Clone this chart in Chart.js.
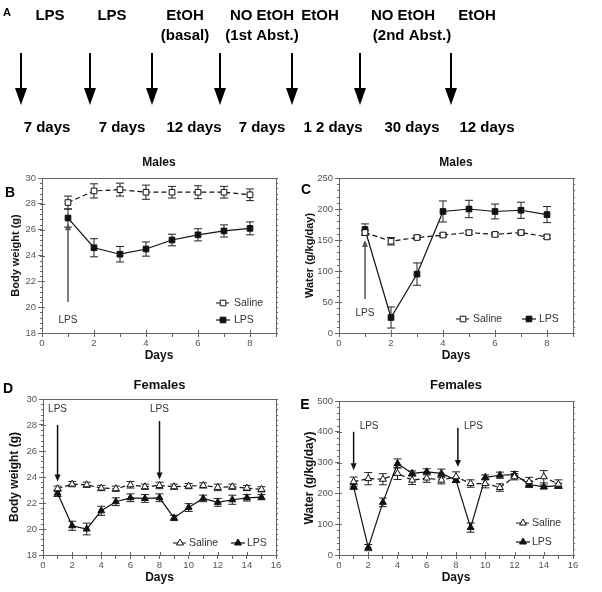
<!DOCTYPE html>
<html>
<head>
<meta charset="utf-8">
<script src="https://cdn.jsdelivr.net/npm/chart.js@4.4.1/dist/chart.umd.min.js"></script>
<style>
  body { margin: 0; background: #fff; }
  #wrap { position: relative; width: 602px; height: 592px; overflow: hidden; }
  canvas { position: absolute; }
</style>
</head>
<body>
<div id="wrap">
  <canvas id="timeline" width="602" height="140" style="left:0;top:0"></canvas>
  <canvas id="chartB" width="300" height="225" style="left:0;top:140px"></canvas>
  <canvas id="chartC" width="302" height="225" style="left:300px;top:140px"></canvas>
  <canvas id="chartD" width="300" height="227" style="left:0;top:365px"></canvas>
  <canvas id="chartE" width="302" height="227" style="left:300px;top:365px"></canvas>
</div>
<script>
// ---- timeline (panel A) ----
const stageLabels = [['LPS'], ['LPS'], ['EtOH', '(basal)'], ['NO EtOH', '(1st Abst.)'], ['EtOH'], ['NO EtOH', '(2nd Abst.)'], ['EtOH']];
const stageDurations = ['7 days', '7 days', '12 days', '7 days', '1 2 days', '30 days', '12 days'];

// ---- data ----
const maleDays = [1, 2, 3, 4, 5, 6, 7, 8];
const maleWeightSaline = [28.1, 29.0, 29.1, 28.9, 28.9, 28.9, 28.9, 28.7];
const maleWeightSalineErr = [0.5, 0.55, 0.5, 0.55, 0.45, 0.5, 0.45, 0.45];
const maleWeightLps = [26.9, 24.6, 24.1, 24.5, 25.2, 25.6, 25.9, 26.1];
const maleWeightLpsErr = [0.7, 0.7, 0.6, 0.55, 0.45, 0.47, 0.47, 0.5];

const maleWaterSaline = [162, 148, 154, 158, 162, 159, 162, 155];
const maleWaterSalineErr = [4, 6, 3, 3, 3, 3, 3, 3];
const maleWaterLps = [167, 25, 95, 196, 200, 196, 198, 191];
const maleWaterLpsErr = [9, 17, 18, 17, 14, 12, 13, 13];

const femaleDays = [1, 2, 3, 4, 5, 6, 7, 8, 9, 10, 11, 12, 13, 14, 15];
const femaleWeightSaline = [23.1, 23.45, 23.4, 23.15, 23.1, 23.4, 23.25, 23.35, 23.25, 23.3, 23.35, 23.2, 23.25, 23.15, 23.05];
const femaleWeightSalineErr = [0.2, 0.2, 0.2, 0.2, 0.2, 0.25, 0.2, 0.25, 0.2, 0.2, 0.2, 0.25, 0.2, 0.2, 0.2];
const femaleWeightLps = [22.75, 20.25, 20.0, 21.4, 22.1, 22.4, 22.35, 22.4, 20.85, 21.65, 22.35, 22.05, 22.25, 22.4, 22.45];
const femaleWeightLpsErr = [0.25, 0.35, 0.45, 0.35, 0.3, 0.3, 0.3, 0.3, 0.2, 0.3, 0.25, 0.3, 0.35, 0.25, 0.2];

const femaleWaterSaline = [238, 248, 246, 265, 243, 250, 243, 254, 232, 232, 219, 254, 238, 254, 230];
const femaleWaterSalineErr = [15, 20, 18, 20, 14, 14, 12, 16, 12, 14, 12, 10, 14, 20, 14];
const femaleWaterLps = [221, 24, 171, 297, 265, 270, 265, 243, 89, 252, 259, 261, 229, 221, 225];
const femaleWaterLpsErr = [8, 10, 14, 15, 8, 10, 14, 8, 15, 8, 10, 10, 10, 6, 8];

const FONT = "'Liberation Sans', Arial, Helvetica, sans-serif";

// draw panel A with plain canvas calls
function drawTimeline() {
    const ctx = document.getElementById('timeline').getContext('2d');
    const line1X = [50, 112, 185, 262, 320, 403, 477];
    const line2X = [null, null, 185, 262, null, 412, null];
    const arrowX = [21, 90, 152, 220, 292, 360, 451];
    const durX = [47, 122, 194, 262, 333, 412, 487];

    ctx.fillStyle = '#000';
    ctx.font = 'bold 11px ' + FONT;
    ctx.textAlign = 'left';
    ctx.textBaseline = 'middle';
    ctx.fillText('A', 3, 13);

    ctx.font = 'bold 15px ' + FONT;
    ctx.textAlign = 'center';
    stageLabels.forEach((lines, i) => {
        ctx.fillText(lines[0], line1X[i], 16);
        if (lines[1]) ctx.fillText(lines[1], line2X[i], 36);
    });
    stageDurations.forEach((t, i) => ctx.fillText(t, durX[i], 128));

    ctx.strokeStyle = '#000';
    ctx.lineWidth = 2;
    arrowX.forEach(x => {
        ctx.beginPath();
        ctx.moveTo(x, 53);
        ctx.lineTo(x, 92);
        ctx.stroke();
        ctx.beginPath();
        ctx.moveTo(x - 6, 88);
        ctx.lineTo(x + 6, 88);
        ctx.lineTo(x, 105);
        ctx.closePath();
        ctx.fill();
    });
}

// error bars, frame, minor ticks, arrows, legend, panel letter
const decorPlugin = {
    id: 'decor',
    beforeDatasetsDraw(chart) {
        const {ctx} = chart;
        const xs = chart.scales.x, ys = chart.scales.y;
        ctx.save();
        ctx.strokeStyle = '#222';
        ctx.lineWidth = 1;
        chart.data.datasets.forEach(ds => {
            if (!ds.errors) return;
            ds.data.forEach((p, i) => {
                const e = ds.errors[i];
                const px = xs.getPixelForValue(p.x);
                const yt = ys.getPixelForValue(p.y + e);
                const yb = ys.getPixelForValue(p.y - e);
                ctx.beginPath();
                ctx.moveTo(px, yt); ctx.lineTo(px, yb);
                ctx.moveTo(px - 4, yt); ctx.lineTo(px + 4, yt);
                ctx.moveTo(px - 4, yb); ctx.lineTo(px + 4, yb);
                ctx.stroke();
            });
        });
        ctx.restore();
    },
    afterDraw(chart, args, opts) {
        const {ctx, chartArea: a} = chart;
        const xs = chart.scales.x, ys = chart.scales.y;
        ctx.save();

        // box + minor ticks
        ctx.strokeStyle = '#666';
        ctx.lineWidth = 1;
        ctx.beginPath();
        ctx.moveTo(a.left, a.top + 0.5); ctx.lineTo(a.right + 0.5, a.top + 0.5);
        ctx.lineTo(a.right + 0.5, a.bottom);
        ctx.stroke();
        ctx.beginPath();
        for (let v = ys.min; v <= ys.max + 1e-6; v += opts.minorY) {
            const py = Math.round(ys.getPixelForValue(v)) + 0.5;
            ctx.moveTo(a.left - 2, py); ctx.lineTo(a.left, py);
            ctx.moveTo(a.right, py); ctx.lineTo(a.right + 2, py);
        }
        ys.ticks.forEach(t => {
            const py = Math.round(ys.getPixelForValue(t.value)) + 0.5;
            ctx.moveTo(a.left, py); ctx.lineTo(a.left + 3, py);
        });
        xs.ticks.forEach(t => {
            const px = Math.round(xs.getPixelForValue(t.value)) + 0.5;
            if (t.value % 2 === 0) { ctx.moveTo(px, a.bottom); ctx.lineTo(px, a.bottom - 3); }
        });
        ctx.stroke();

        // LPS arrows
        (opts.arrows || []).forEach(ar => {
            const px = xs.getPixelForValue(ar.x);
            const y0 = ys.getPixelForValue(ar.from);
            const y1 = ys.getPixelForValue(ar.to);
            const dir = y1 < y0 ? -1 : 1;
            ctx.strokeStyle = ar.color;
            ctx.fillStyle = ar.color;
            ctx.lineWidth = 1.5;
            ctx.beginPath();
            ctx.moveTo(px, y0); ctx.lineTo(px, y1 - dir * 5);
            ctx.stroke();
            ctx.beginPath();
            ctx.moveTo(px - 3, y1 - dir * 7);
            ctx.lineTo(px + 3, y1 - dir * 7);
            ctx.lineTo(px, y1);
            ctx.closePath();
            ctx.fill();
        });

        // text labels
        ctx.fillStyle = '#333';
        ctx.font = '10px ' + FONT;
        ctx.textBaseline = 'middle';
        (opts.labels || []).forEach(l => {
            ctx.textAlign = l.align;
            ctx.fillText(l.text, xs.getPixelForValue(l.x) + (l.dx || 0), ys.getPixelForValue(l.y));
        });

        // legend
        (opts.legend || []).forEach(item => {
            const ds = chart.data.datasets[item.ds];
            ctx.strokeStyle = '#111';
            ctx.lineWidth = 1.2;
            ctx.setLineDash(ds.borderDash || []);
            ctx.beginPath();
            ctx.moveTo(item.x - 7, item.y); ctx.lineTo(item.x + 7, item.y);
            ctx.stroke();
            ctx.setLineDash([]);
            ctx.fillStyle = ds.pointBackgroundColor;
            ctx.strokeStyle = '#111';
            ctx.lineWidth = 1;
            Chart.helpers.drawPoint(ctx, {pointStyle: ds.pointStyle, radius: ds.pointRadius, rotation: 0, borderWidth: 1}, item.x, item.y);
            ctx.fillStyle = '#333';
            ctx.font = '10.5px ' + FONT;
            ctx.textAlign = 'left';
            ctx.fillText(ds.label, item.tx, item.y);
        });

        // panel letter
        ctx.fillStyle = '#000';
        ctx.font = 'bold 14px ' + FONT;
        ctx.textAlign = 'center';
        ctx.fillText(opts.letter, opts.letterX, opts.letterY);
        ctx.restore();
    }
};

function series(label, days, values, errs, filled, style) {
    return {
        label: label,
        data: days.map((d, i) => ({x: d, y: values[i]})),
        errors: errs,
        borderColor: '#111',
        borderWidth: 1.2,
        borderDash: filled ? [] : [5, 3],
        pointStyle: style,
        pointRadius: 4,
        pointBorderWidth: 1,
        pointBorderColor: '#111',
        pointBackgroundColor: filled ? '#111' : '#fff',
        tension: 0,
        fill: false
    };
}

function makeChart(id, p) {
    return new Chart(document.getElementById(id), {
        type: 'line',
        data: {datasets: p.datasets},
        options: {
            responsive: false,
            animation: false,
            events: [],
            layout: {padding: {top: 0, left: 0, bottom: 0, right: p.padRight}},
            plugins: {
                legend: {display: false},
                tooltip: {enabled: false},
                title: {
                    display: true, text: p.title, fullSize: false, color: '#111',
                    font: {family: FONT, size: p.titleSize, weight: 'bold'},
                    padding: p.titlePad
                },
                decor: p.decor
            },
            scales: {
                x: {
                    type: 'linear', min: 0, max: p.xMax,
                    afterFit: s => { s.height = p.xHeight; },
                    ticks: {
                        stepSize: 1, autoSkip: false, maxRotation: 0, padding: 1,
                        color: '#555', font: {family: FONT, size: 9.5},
                        callback: v => (v % 2 === 0 && v <= p.xLabelMax) ? v : ''
                    },
                    grid: {drawOnChartArea: false, drawTicks: true, tickLength: 4, color: '#666'},
                    border: {display: true, color: '#666'},
                    title: {
                        display: true, text: 'Days', color: '#111',
                        font: {family: FONT, size: 12, weight: 'bold'},
                        padding: {top: 0, bottom: p.xTitlePad}
                    }
                },
                y: {
                    min: p.yMin, max: p.yMax,
                    afterFit: s => { s.width = p.yWidth; },
                    ticks: {stepSize: p.yStep, padding: 2, color: '#555', font: {family: FONT, size: 9.5}},
                    grid: {drawOnChartArea: false, drawTicks: true, tickLength: 4, color: '#666'},
                    border: {display: true, color: '#666'},
                    title: {
                        display: true, text: p.yTitle, color: '#111',
                        font: {family: FONT, size: p.yTitleSize, weight: 'bold'},
                        padding: {top: p.yTitlePad, bottom: 0}
                    }
                }
            }
        },
        plugins: [decorPlugin]
    });
}

drawTimeline();

makeChart('chartB', {
    datasets: [
        series('Saline', maleDays, maleWeightSaline, maleWeightSalineErr, false, 'rect'),
        series('LPS', maleDays, maleWeightLps, maleWeightLpsErr, true, 'rect')
    ],
    title: 'Males', titleSize: 12, titlePad: {top: 15.8, bottom: 7.8},
    padRight: 24, xMax: 9, xLabelMax: 8, xHeight: 32, xTitlePad: 1.8,
    yMin: 18, yMax: 30, yStep: 2, yWidth: 42,
    yTitle: 'Body weight (g)', yTitleSize: 11, yTitlePad: 9.4,
    decor: {
        minorY: 0.4, letter: 'B', letterX: 10, letterY: 53,
        arrows: [{x: 1, from: 20.4, to: 26.5, color: '#555'}],
        labels: [{x: 1, y: 19.0, text: 'LPS', align: 'center'}],
        legend: [{ds: 0, x: 223, y: 163, tx: 234}, {ds: 1, x: 223, y: 180, tx: 234}]
    }
});

makeChart('chartC', {
    datasets: [
        series('Saline', maleDays, maleWaterSaline, maleWaterSalineErr, false, 'rect'),
        series('LPS', maleDays, maleWaterLps, maleWaterLpsErr, true, 'rect')
    ],
    title: 'Males', titleSize: 12, titlePad: {top: 15.8, bottom: 7.8},
    padRight: 29, xMax: 9, xLabelMax: 8, xHeight: 32, xTitlePad: 1.8,
    yMin: 0, yMax: 250, yStep: 50, yWidth: 39,
    yTitle: 'Water (g/kg/day)', yTitleSize: 11, yTitlePad: 3.4,
    decor: {
        minorY: 10, letter: 'C', letterX: 6, letterY: 50,
        arrows: [{x: 1, from: 55, to: 150, color: '#555'}],
        labels: [{x: 1, y: 32, text: 'LPS', align: 'center'}],
        legend: [{ds: 0, x: 163, y: 179, tx: 173}, {ds: 1, x: 229, y: 179, tx: 239}]
    }
});

makeChart('chartD', {
    datasets: [
        series('Saline', femaleDays, femaleWeightSaline, femaleWeightSalineErr, false, 'triangle'),
        series('LPS', femaleDays, femaleWeightLps, femaleWeightLpsErr, true, 'triangle')
    ],
    title: 'Females', titleSize: 13, titlePad: {top: 12.2, bottom: 6.2},
    padRight: 24, xMax: 16, xLabelMax: 16, xHeight: 37, xTitlePad: 6.8,
    yMin: 18, yMax: 30, yStep: 2, yWidth: 43,
    yTitle: 'Body weight (g)', yTitleSize: 12, yTitlePad: 7.8,
    decor: {
        minorY: 0.4, letter: 'D', letterX: 8, letterY: 24,
        arrows: [{x: 1, from: 28.0, to: 23.65, color: '#111'}, {x: 8, from: 28.3, to: 23.8, color: '#111'}],
        labels: [{x: 1, y: 29.2, text: 'LPS', align: 'center'}, {x: 8, y: 29.2, text: 'LPS', align: 'center'}],
        legend: [{ds: 0, x: 180, y: 178, tx: 189}, {ds: 1, x: 238, y: 178, tx: 247}]
    }
});

makeChart('chartE', {
    datasets: [
        series('Saline', femaleDays, femaleWaterSaline, femaleWaterSalineErr, false, 'triangle'),
        series('LPS', femaleDays, femaleWaterLps, femaleWaterLpsErr, true, 'triangle')
    ],
    title: 'Females', titleSize: 13, titlePad: {top: 12.2, bottom: 8.2},
    padRight: 29, xMax: 16, xLabelMax: 16, xHeight: 37, xTitlePad: 6.8,
    yMin: 0, yMax: 500, yStep: 100, yWidth: 39,
    yTitle: 'Water (g/kg/day)', yTitleSize: 12, yTitlePad: 2.8,
    decor: {
        minorY: 20, letter: 'E', letterX: 5, letterY: 40,
        arrows: [{x: 1, from: 400, to: 275, color: '#111'}, {x: 8.13, from: 413, to: 286, color: '#111'}],
        labels: [{x: 1, y: 419, text: 'LPS', align: 'left', dx: 6}, {x: 8.13, y: 419, text: 'LPS', align: 'left', dx: 6}],
        legend: [{ds: 0, x: 223, y: 158, tx: 232}, {ds: 1, x: 223, y: 177, tx: 232}]
    }
});
</script>
</body>
</html>
